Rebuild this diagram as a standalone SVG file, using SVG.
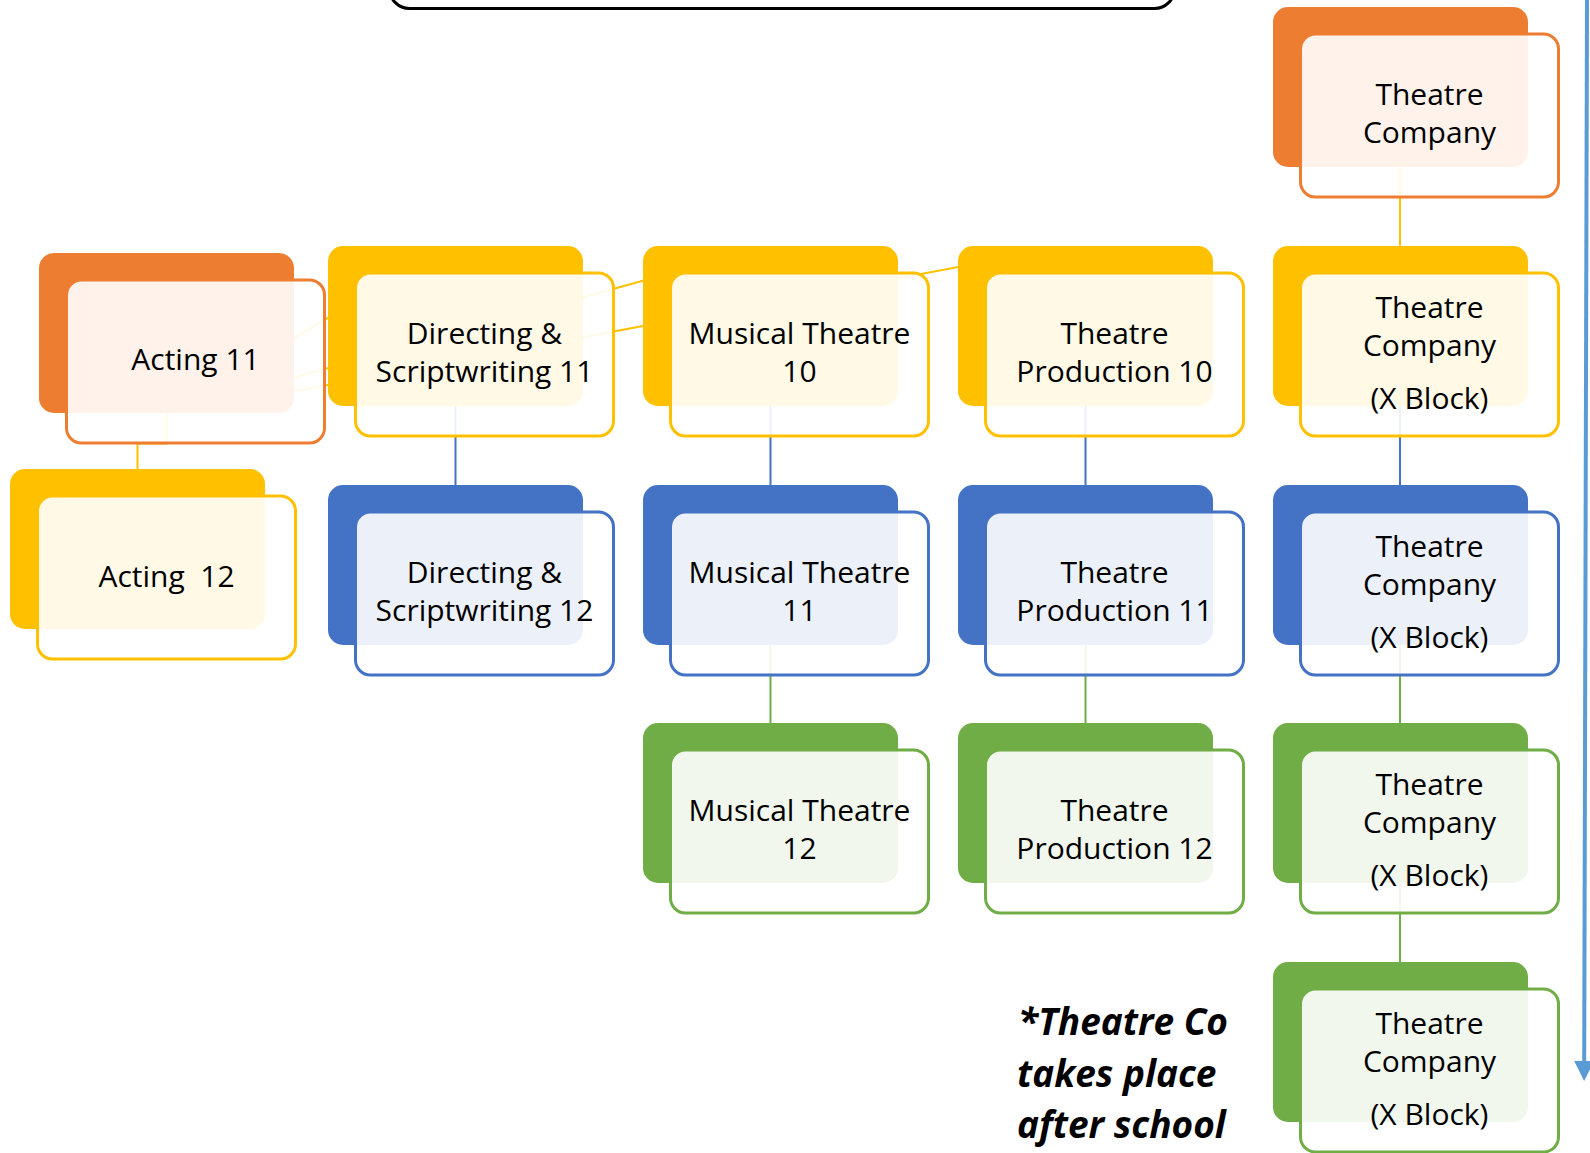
<svg xmlns="http://www.w3.org/2000/svg" width="1590" height="1153" viewBox="0 0 1590 1153">
<defs>
<style>
.lbl{font-family:"Open Sans","Liberation Sans",sans-serif;font-size:30px;fill:#000;text-anchor:middle;white-space:pre}
.note{font-family:"Open Sans","Liberation Sans",sans-serif;font-size:37px;font-weight:bold;font-style:italic;fill:#000}
.ov{fill:#fff;fill-opacity:0.9;stroke-width:3}
.c{fill:none;stroke-width:2}
.o{fill:#ED7D31}.y{fill:#FFC000}.b{fill:#4472C4}.g{fill:#70AD47}
.so{stroke:#ED7D31}.sy{stroke:#FFC000}.sb{stroke:#4472C4}.sg{stroke:#70AD47}
</style>
<marker id="ah" markerWidth="5" markerHeight="5" refX="0" refY="2.5" orient="auto" markerUnits="strokeWidth" viewBox="0 0 5 5">
<path d="M0,0 L5,2.5 L0,5 Z" fill="#5B9BD5"/>
</marker>
</defs>
<rect x="389.5" y="-60" width="785" height="68.5" rx="20" fill="#fff" stroke="#000" stroke-width="3"/>
<g id="connectors">
<line class="c sy" x1="285" y1="343.7" x2="335" y2="313.7"/>
<line class="c sy" x1="285" y1="380" x2="650" y2="278.7"/>
<line class="c sy" x1="285" y1="392.9" x2="965" y2="265.8"/>
<polyline class="c sy" points="166.5,413 166.5,443.5 137.5,443.5 137.5,470"/>
<line class="c sb" x1="455.5" y1="405" x2="455.5" y2="486"/>
<line class="c sb" x1="770.5" y1="405" x2="770.5" y2="486"/>
<line class="c sg" x1="770.5" y1="644" x2="770.5" y2="724"/>
<line class="c sb" x1="1085.5" y1="405" x2="1085.5" y2="486"/>
<line class="c sg" x1="1085.5" y1="644" x2="1085.5" y2="724"/>
<line class="c sy" x1="1400" y1="166" x2="1400" y2="247"/>
<line class="c sb" x1="1400" y1="405" x2="1400" y2="486"/>
<line class="c sg" x1="1400" y1="644" x2="1400" y2="724"/>
<line class="c sg" x1="1400" y1="882" x2="1400" y2="963"/>
<line x1="1587" y1="0" x2="1584.2" y2="1061" stroke="#5B9BD5" stroke-width="4" marker-end="url(#ah)"/>
</g>
<g id="tc1"><rect class="o" x="1273" y="7" width="255" height="160" rx="15"/><rect class="ov so" x="1300.5" y="34" width="258" height="163" rx="15"/><text class="lbl" x="1429.5" y="105">Theatre</text><text class="lbl" x="1429.5" y="143">Company</text></g>
<g id="acting11"><rect class="o" x="39" y="253" width="255" height="160" rx="15"/><rect class="ov so" x="66.5" y="280" width="258" height="163" rx="15"/><text class="lbl" x="195.5" y="370">Acting 11</text></g>
<g id="acting12"><rect class="y" x="10" y="469" width="255" height="160" rx="15"/><rect class="ov sy" x="37.5" y="496" width="258" height="163" rx="15"/><text class="lbl" x="166.5" y="587">Acting  12</text></g>
<g id="dir11"><rect class="y" x="328" y="246" width="255" height="160" rx="15"/><rect class="ov sy" x="355.5" y="273" width="258" height="163" rx="15"/><text class="lbl" x="484.5" y="344">Directing &amp;</text><text class="lbl" x="484.5" y="382">Scriptwriting 11</text></g>
<g id="mt10"><rect class="y" x="643" y="246" width="255" height="160" rx="15"/><rect class="ov sy" x="670.5" y="273" width="258" height="163" rx="15"/><text class="lbl" x="799.5" y="344">Musical Theatre</text><text class="lbl" x="799.5" y="382">10</text></g>
<g id="tp10"><rect class="y" x="958" y="246" width="255" height="160" rx="15"/><rect class="ov sy" x="985.5" y="273" width="258" height="163" rx="15"/><text class="lbl" x="1114.5" y="344">Theatre</text><text class="lbl" x="1114.5" y="382">Production 10</text></g>
<g id="tc2"><rect class="y" x="1273" y="246" width="255" height="160" rx="15"/><rect class="ov sy" x="1300.5" y="273" width="258" height="163" rx="15"/><text class="lbl" x="1429.5" y="318">Theatre</text><text class="lbl" x="1429.5" y="356">Company</text><text class="lbl" x="1429.5" y="408.5">(X Block)</text></g>
<g id="dir12"><rect class="b" x="328" y="485" width="255" height="160" rx="15"/><rect class="ov sb" x="355.5" y="512" width="258" height="163" rx="15"/><text class="lbl" x="484.5" y="583">Directing &amp;</text><text class="lbl" x="484.5" y="621">Scriptwriting 12</text></g>
<g id="mt11"><rect class="b" x="643" y="485" width="255" height="160" rx="15"/><rect class="ov sb" x="670.5" y="512" width="258" height="163" rx="15"/><text class="lbl" x="799.5" y="583">Musical Theatre</text><text class="lbl" x="799.5" y="621">11</text></g>
<g id="tp11"><rect class="b" x="958" y="485" width="255" height="160" rx="15"/><rect class="ov sb" x="985.5" y="512" width="258" height="163" rx="15"/><text class="lbl" x="1114.5" y="583">Theatre</text><text class="lbl" x="1114.5" y="621">Production 11</text></g>
<g id="tc3"><rect class="b" x="1273" y="485" width="255" height="160" rx="15"/><rect class="ov sb" x="1300.5" y="512" width="258" height="163" rx="15"/><text class="lbl" x="1429.5" y="557">Theatre</text><text class="lbl" x="1429.5" y="595">Company</text><text class="lbl" x="1429.5" y="647.5">(X Block)</text></g>
<g id="mt12"><rect class="g" x="643" y="723" width="255" height="160" rx="15"/><rect class="ov sg" x="670.5" y="750" width="258" height="163" rx="15"/><text class="lbl" x="799.5" y="821">Musical Theatre</text><text class="lbl" x="799.5" y="859">12</text></g>
<g id="tp12"><rect class="g" x="958" y="723" width="255" height="160" rx="15"/><rect class="ov sg" x="985.5" y="750" width="258" height="163" rx="15"/><text class="lbl" x="1114.5" y="821">Theatre</text><text class="lbl" x="1114.5" y="859">Production 12</text></g>
<g id="tc4"><rect class="g" x="1273" y="723" width="255" height="160" rx="15"/><rect class="ov sg" x="1300.5" y="750" width="258" height="163" rx="15"/><text class="lbl" x="1429.5" y="795">Theatre</text><text class="lbl" x="1429.5" y="833">Company</text><text class="lbl" x="1429.5" y="885.5">(X Block)</text></g>
<g id="tc5"><rect class="g" x="1273" y="962" width="255" height="160" rx="15"/><rect class="ov sg" x="1300.5" y="989" width="258" height="163" rx="15"/><text class="lbl" x="1429.5" y="1034">Theatre</text><text class="lbl" x="1429.5" y="1072">Company</text><text class="lbl" x="1429.5" y="1124.5">(X Block)</text></g>
<g id="note"><text class="note" x="1018" y="1035">*Theatre Co</text><text class="note" x="1017" y="1087">takes place</text><text class="note" x="1017" y="1138">after school</text></g>
</svg>
